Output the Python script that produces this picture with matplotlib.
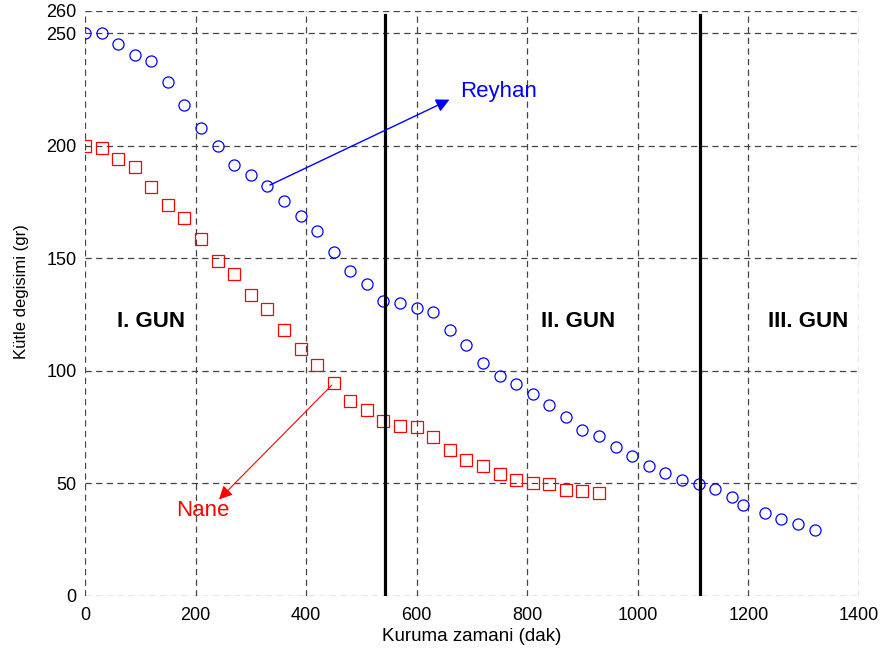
import matplotlib.pyplot as plt
import numpy as np

plt.rcParams['font.family'] = ['Liberation Sans', 'DejaVu Sans']

# Reyhan (mavi daireler)
reyhan_t = [0, 30, 60, 90, 120, 150, 180, 210, 240, 270, 300, 330, 360, 390, 420,
            450, 480, 510, 540, 570, 600, 630, 660, 690, 720, 750, 780, 810, 840,
            870, 900, 930, 960, 990, 1020, 1050, 1080, 1110, 1140, 1170, 1190,
            1230, 1260, 1290, 1320]
reyhan_m = [250, 250, 245, 240.5, 237.5, 228.5, 218, 208, 200, 191.5, 187, 182,
            175.5, 169, 162, 153, 144.5, 138.5, 131, 130, 128, 126, 118, 111.5,
            103.5, 97.5, 94, 89.5, 85, 79.5, 73.5, 71, 66, 62, 57.5, 54.5, 51.5,
            49.5, 47.5, 44, 40.5, 37, 34, 32, 29.5]

# Nane (kirmizi kareler)
nane_t = [0, 30, 60, 90, 120, 150, 180, 210, 240, 270, 300, 330, 360, 390, 420,
          450, 480, 510, 540, 570, 600, 630, 660, 690, 720, 750, 780, 810, 840,
          870, 900, 930]
nane_m = [200, 199, 194, 190.5, 181.5, 173.5, 168, 158.5, 149, 143, 133.5, 127.5,
          118, 109.5, 102.5, 94.5, 86.5, 82.5, 77.5, 75.5, 75, 70.5, 65, 60.5,
          57.5, 54, 51.5, 50, 49.5, 47, 46.5, 45.5]

gun_sinir = [543, 1112]
gun_etiket = ["I. GUN", "II. GUN", "III. GUN"]
gun_x = [120, 892, 1309]

xticks = [0, 200, 400, 600, 800, 1000, 1200, 1400]
yticks = [0, 50, 100, 150, 200, 250, 260]

fig = plt.figure(figsize=(8.85, 6.57), dpi=100, facecolor="white")
ax = fig.add_axes([0.096, 0.093, 0.8745, 0.8907])

ax.plot(reyhan_t, reyhan_m, linestyle="none", marker="o", markersize=8,
        markerfacecolor="none", markeredgecolor="blue", markeredgewidth=0.9)
ax.plot(nane_t, nane_m, linestyle="none", marker="s", markersize=8,
        markerfacecolor="none", markeredgecolor="red", markeredgewidth=0.9)

for xs in gun_sinir:
    ax.plot([xs, xs], [0, 258], color="black", linewidth=2.3)

for lbl, xg in zip(gun_etiket, gun_x):
    ax.text(xg, 122, lbl, ha="center", va="center", fontsize=16, fontweight="bold")

ax.annotate("", xy=(664, 221), xytext=(330, 182),
            arrowprops=dict(arrowstyle="-|>", color="blue", lw=1, mutation_scale=20))
ax.text(678, 224, "Reyhan", color="blue", fontsize=16, ha="left", va="center")

ax.annotate("", xy=(239, 42), xytext=(450, 94.5),
            arrowprops=dict(arrowstyle="-|>", color="red", lw=0.8, mutation_scale=20))
ax.text(214, 38, "Nane", color="red", fontsize=16, ha="center", va="center")

ax.set_xlim(0, 1400)
ax.set_ylim(0, 260)
ax.set_xticks(xticks)
ax.set_yticks(yticks)
ax.tick_params(labelsize=13, length=0, pad=8)
ax.tick_params(axis="y", pad=6)
ax.grid(True, color="#444444", linestyle=(0, (5, 3.5)), linewidth=0.9)
for s in ax.spines.values():
    s.set_visible(False)

ax.set_xlabel("Kuruma zamani (dak)", fontsize=13.5)
ax.set_ylabel("Kütle degisimi (gr)", fontsize=12)
ax.xaxis.set_label_coords(0.5, -0.055)
ax.yaxis.set_label_coords(-0.072, 0.52)

plt.savefig("out.png", dpi=100)
